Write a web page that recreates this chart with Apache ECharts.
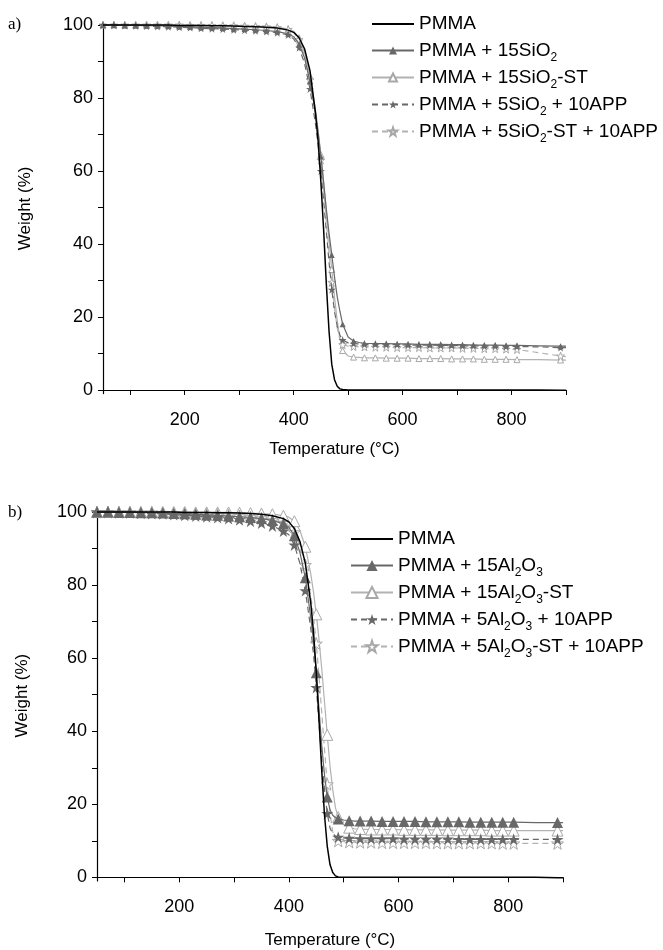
<!DOCTYPE html>
<html>
<head>
<meta charset="utf-8">
<script src="https://cdn.jsdelivr.net/npm/echarts@6/dist/echarts.min.js"></script>
<style>html,body{margin:0;padding:0;background:#fff}#c{width:663px;height:950px}</style>
</head>
<body>
<div id="c"></div>
<script>
// ---------- data ----------
const tempA = [50,70,90,110,130,150,170,190,210,230,250,270,290,310,330,350,370,390,
  400,410,420,430,440,445,450,455,460,465,470,475,480,485,490,
  500,510,520,530,
  550,570,590,610,630,650,670,690,710,730,750,770,790,810,
  850,890,900];
const tempB = tempA.slice();

const namesA = ['PMMA','PMMA + 15SiO2','PMMA + 15SiO2-ST','PMMA + 5SiO2 + 10APP','PMMA + 5SiO2-ST + 10APP'];
const namesB = ['PMMA','PMMA + 15Al2O3','PMMA + 15Al2O3-ST','PMMA + 5Al2O3 + 10APP','PMMA + 5Al2O3-ST + 10APP'];

const pmmaA = [100,100,100,100,100,100,100,99.9,99.9,99.9,99.8,99.8,99.7,99.6,99.5,99.4,99.2,98.6,
  98,96.5,93.5,87.5,76,68,57,44,29,16,7,2.8,1,0.3,0.1,
  0,0,0,0,
  0,0,0,0,0,0,0,0,0,0,0,0,0,0,
  0,-0.1,-0.1];
const sio2A = [100,100,99.9,99.9,99.8,99.8,99.7,99.6,99.5,99.4,99.3,99.2,99.0,98.9,98.7,98.5,98.2,97.6,
  96.8,94.8,91,84.5,76,70.5,64,57,49.5,43,37,31,25.5,21.5,18,
  14.5,13.4,13.0,12.8,
  12.7,12.7,12.6,12.6,12.5,12.5,12.5,12.4,12.4,12.3,12.3,12.3,12.2,12.2,
  12.1,12.0,12.0];
const sio2stA = [100,100,100,100,100,100,100,100,100,99.9,99.9,99.9,99.8,99.8,99.7,99.6,99.4,98.9,
  98.3,96.5,92.5,86,77,71,64.5,57,49,41,33,25.5,19,14,10.8,
  9.3,9.0,8.9,8.8,
  8.8,8.7,8.7,8.7,8.6,8.6,8.6,8.5,8.5,8.5,8.4,8.4,8.4,8.3,
  8.3,8.2,8.2];
const sio2appA = [100,100,99.9,99.8,99.7,99.6,99.5,99.4,99.3,99.1,99.0,98.9,98.7,98.6,98.4,98.2,97.9,97.3,
  96.2,93.8,89.5,82.5,73,67,60,52,43.5,35,27.5,21.5,17.5,15,13.7,
  12.9,12.7,12.6,12.5,
  12.5,12.4,12.4,12.3,12.3,12.3,12.2,12.2,12.1,12.1,12.0,12.0,11.9,11.9,
  11.8,11.6,11.6];
const sio2stappA = [100,100,100,100,100,100,100,100,99.9,99.9,99.9,99.8,99.8,99.7,99.6,99.5,99.3,98.8,
  98,96,91.5,85,76,70,63,55,46,37.5,29.5,22.5,17,13.8,12.4,
  12.0,11.9,11.8,11.8,
  11.7,11.7,11.6,11.6,11.6,11.5,11.5,11.5,11.4,11.4,11.3,11.3,11.2,11.1,
  10.2,9.3,9.1];

const pmmaB = [100,100,100,100,100,100,100,100,99.9,99.9,99.9,99.8,99.8,99.7,99.6,99.4,99.0,98.2,
  97.3,95.5,92,86,75,67,56,43,29,17,8.5,3.5,1.3,0.4,0.1,
  0,0,0,0,
  0,0,0,0,0,0,0,0,0,0,0,0,0,0,
  0,-0.1,-0.1];
const al2o3B = [100,100,99.9,99.9,99.8,99.8,99.7,99.6,99.5,99.4,99.2,99.1,98.9,98.7,98.5,98.2,97.7,96.8,
  95.8,93.5,89,82,71,64.5,56,46,36,28,22,18.5,17,16.3,16,
  15.7,15.5,15.4,15.4,
  15.4,15.3,15.3,15.3,15.3,15.2,15.2,15.2,15.2,15.1,15.1,15.1,15.1,15.1,
  15.0,15.0,15.0];
const al2o3stB = [100,100,100,100,100,100,100,100,100,99.9,99.9,99.9,99.9,99.8,99.7,99.6,99.4,99.0,
  98.6,97.5,95,90.5,83,78,72,65,57,48,39,30.5,24,19,16.5,
  14.4,13.6,13.3,13.2,
  13.1,13.1,13.1,13.0,13.0,13.0,13.0,12.9,12.9,12.9,12.9,12.8,12.8,12.8,
  12.8,12.8,12.8];
const al2o3appB = [100,100,99.9,99.8,99.7,99.6,99.5,99.3,99.1,98.9,98.7,98.5,98.2,97.9,97.5,97.0,96.2,94.8,
  93.8,91,86,78.5,68,61,52,42,32,24,17.5,13.5,12,11.3,11,
  10.8,10.7,10.7,10.6,
  10.6,10.6,10.6,10.5,10.5,10.5,10.5,10.5,10.4,10.4,10.4,10.4,10.4,10.4,
  10.4,10.4,10.4];
const al2o3stappB = [100,100,100,100,99.9,99.9,99.8,99.7,99.6,99.5,99.4,99.3,99.1,98.9,98.6,98.3,97.8,97.0,
  96.3,94.5,91,85.5,77,71.5,64,55,45,35,25.5,17.5,12.5,10.5,10,
  9.8,9.7,9.6,9.6,
  9.6,9.5,9.5,9.5,9.5,9.5,9.4,9.4,9.4,9.4,9.4,9.4,9.3,9.3,
  9.3,9.3,9.3];

const xTickValues = [100,200,300,400,500,600,700,800,900];
const xLabelValues = [200,400,600,800];
const yTickValues = [0,10,20,30,40,50,60,70,80,90,100];
const yLabelValues = [0,20,40,60,80,100];

// ---------- styling ----------
const FONT = '"Liberation Sans", Arial, sans-serif';
const STAR = 'path://M50 2 L61.8 38 L99 38 L69 60 L80.5 96 L50 74 L19.5 96 L31 60 L1 38 L38.2 38 Z';
const DARK = '#686868', LIGHT = '#b2b2b2';
function isMarker(t){ return (t <= 810 && (t - 50) % 20 === 0) || t === 890; }

function mkX(i){
  return {type:'value', gridIndex:i, min:50, max:900,
    axisLine:{show:true, lineStyle:{color:'#000', width:1.2}},
    axisTick:{show:true, customValues:xTickValues, length:5, lineStyle:{color:'#000', width:1}},
    axisLabel:{customValues:xLabelValues, color:'#000', fontSize:18, fontFamily:FONT, margin:17},
    splitLine:{show:false},
    name:'Temperature (°C)', nameLocation:'middle', nameGap:i===0?47:51,
    nameTextStyle:{fontSize:17, color:'#000', fontFamily:FONT}};
}
function mkY(i){
  return {type:'value', gridIndex:i, min:-1, max:100.5,
    axisLine:{show:true, lineStyle:{color:'#000', width:1.2}},
    axisTick:{show:true, customValues:yTickValues, length:5, lineStyle:{color:'#000', width:1}},
    axisLabel:{customValues:yLabelValues, color:'#000', fontSize:18, fontFamily:FONT, margin:10},
    splitLine:{show:false},
    name:'Weight (%)', nameLocation:'middle', nameGap:i===0?69:66,
    nameTextStyle:{fontSize:17, color:'#000', fontFamily:FONT}};
}

const styles = [
  {line:'#000', width:1.5, type:'solid', symbol:'none', fill:'#000', border:'#000', z:5},
  {line:DARK, width:1.2, type:'solid', symbol:'triangle', fill:DARK, border:DARK, z:3},
  {line:LIGHT, width:1.2, type:'solid', symbol:'triangle', fill:'#fff', border:'#a8a8a8', z:2},
  {line:DARK, width:1.2, type:[6,4], symbol:STAR, fill:DARK, border:DARK, z:4},
  {line:LIGHT, width:1.2, type:[6,4], symbol:STAR, fill:'#fff', border:'#a8a8a8', z:2}
];

function mkSeries(name, temps, vals, gi, st, size){
  return {type:'line', name:name, xAxisIndex:gi, yAxisIndex:gi,
    data: temps.map((t,k)=>[t, vals[k]]),
    symbol: st.symbol, showSymbol: st.symbol !== 'none', showAllSymbol:true,
    symbolSize: function(v){ return isMarker(v[0]) ? size : 0; },
    lineStyle:{color:st.line, width:st.width, type:st.type},
    itemStyle:{color:st.fill, borderColor:st.border, borderWidth: st.fill === '#fff' ? 1 : 0},
    z: st.z, silent:true, animation:false};
}

const seriesA = [pmmaA, sio2A, sio2stA, sio2appA, sio2stappA];
const seriesB = [pmmaB, al2o3B, al2o3stB, al2o3appB, al2o3stappB];
const sizesA = [0,6,6,8,8];
const sizesB = [0,11,11,12,12];

const series = [];
namesA.forEach((n,k)=>series.push(mkSeries(n, tempA, seriesA[k], 0, styles[k], sizesA[k])));
namesB.forEach((n,k)=>series.push(mkSeries(n, tempB, seriesB[k], 1, styles[k], sizesB[k])));

function fmt(name){
  return name.replace('SiO2','SiO{s|2}').replace('Al2O3','Al{s|2}O{s|3}');
}
function legendData(names){
  return names.map((n,k)=> k===0 ? {name:n, itemStyle:{color:'rgba(0,0,0,0)', borderWidth:0, opacity:0}} : {name:n});
}
const legendText = {fontSize:19, color:'#000', fontFamily:FONT, lineHeight:26,
  rich:{s:{fontSize:12, lineHeight:12, padding:[15,0,0,0], color:'#000', fontFamily:FONT}}};

const option = {
  animation:false,
  textStyle:{fontFamily:FONT},
  grid:[{left:103, right:97, top:23.2, height:370.4},
        {left:97, right:100, top:510.2, height:371.5}],
  xAxis:[mkX(0), mkX(1)],
  yAxis:[mkY(0), mkY(1)],
  legend:[
    {orient:'vertical', left:366, top:6, itemWidth:42, itemHeight:10, itemGap:0,
     data:legendData(namesA), formatter:fmt, textStyle:legendText, selectedMode:false},
    {orient:'vertical', left:345, top:521, itemWidth:42, itemHeight:14, itemGap:0,
     data:legendData(namesB), formatter:fmt, textStyle:legendText, selectedMode:false}
  ],
  graphic:[
    {type:'text', left:8, top:16, style:{text:'a)', font:'17px "Liberation Serif", serif', fill:'#000'}},
    {type:'text', left:8, top:504, style:{text:'b)', font:'17px "Liberation Serif", serif', fill:'#000'}}
  ],
  series: series
};
const chart = echarts.init(document.getElementById('c'), null, {renderer:'canvas'});
chart.setOption(option);
</script>
</body>
</html>
